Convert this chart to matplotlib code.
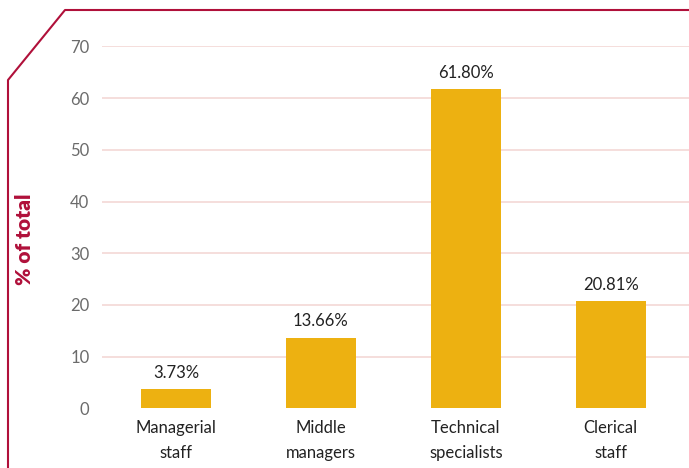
import matplotlib
matplotlib.use("Agg")
import matplotlib.pyplot as plt
from matplotlib.lines import Line2D

categories = ["Managerial\nstaff", "Middle\nmanagers", "Technical\nspecialists", "Clerical\nstaff"]
values = [3.73, 13.66, 61.80, 20.81]
yticks = [0, 10, 20, 30, 40, 50, 60, 70]

CRIMSON = '#B0103A'
GOLD = '#EDB111'
GRID = '#F3D8D5'

plt.rcParams['font.family'] = ['Lato', 'DejaVu Sans']

fig = plt.figure(figsize=(6.89, 4.68), dpi=100)
ax = fig.add_axes([102 / 689, 1 - 408.4 / 468, 1 - 102 / 689, (408.4 - 46.4) / 468])

x = list(range(len(values)))
ax.bar(x, values, width=0.48, color=GOLD, zorder=2)
for xi, v in zip(x, values):
    ax.text(xi, v + 1.6, '%.2f%%' % v, ha='center', va='bottom', fontsize=12, color='#222222')

ax.set_xlim(-0.51, 3.54)
ax.set_ylim(0, 70)
ax.set_yticks(yticks)
ax.set_xticks(x)
ax.set_xticklabels(categories, fontsize=12, color='#222222', linespacing=1.75)
ax.tick_params(axis='y', length=0, pad=9, labelsize=12, labelcolor='#6b6b6b')
ax.tick_params(axis='x', length=0, pad=8)
ax.grid(axis='y', color=GRID, linewidth=1.2, zorder=0)
for s in ax.spines.values():
    s.set_visible(False)
# hide grid line at zero
ax.get_ygridlines()[0].set_visible(False)

fig.text(25 / 689, 1 - 239 / 468, '% of total', rotation=90, ha='center', va='center',
         fontsize=15, fontweight='heavy', color=CRIMSON)

# cut-corner frame
fx = [8 / 689, 8 / 689, 65 / 689, 1.0]
fy = [0.0, 1 - 80 / 468, 1 - 10 / 468, 1 - 10 / 468]
fig.add_artist(Line2D(fx, fy, transform=fig.transFigure, color=CRIMSON, linewidth=1.5))

fig.savefig('out.png', dpi=100)
